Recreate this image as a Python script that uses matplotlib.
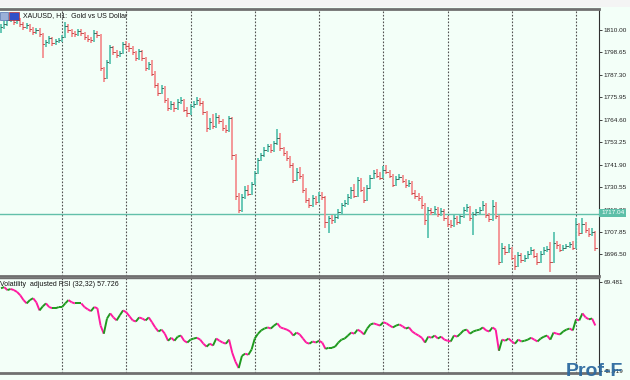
import matplotlib
matplotlib.use("Agg")
import matplotlib.pyplot as plt
from matplotlib.collections import LineCollection
from matplotlib.patches import Rectangle

plt.rcParams["font.family"] = ["Liberation Sans", "DejaVu Sans"]

# XAUUSD H1 bars (open = previous close)
closes = [
    1811.5, 1813.0, 1815.1, 1816.1, 1814.0, 1815.1, 1813.0, 1811.5, 1812.5, 1810.5,
    1809.0, 1810.0, 1808.0, 1802.9, 1803.9, 1806.0, 1803.4, 1804.4, 1804.9, 1806.5,
    1812.0, 1810.0, 1808.5, 1808.0, 1809.5, 1808.5, 1806.5, 1805.5, 1804.9, 1808.5,
    1807.5, 1790.8, 1785.7, 1793.8, 1801.4, 1798.9, 1797.4, 1798.4, 1802.9, 1801.9,
    1800.9, 1798.9, 1795.8, 1799.4, 1795.8, 1790.8, 1792.8, 1787.8, 1782.2, 1778.2,
    1780.7, 1774.6, 1770.6, 1772.6, 1770.6, 1773.6, 1774.6, 1769.6, 1768.0, 1771.6,
    1772.6, 1774.6, 1773.1, 1768.5, 1760.5, 1763.5, 1761.5, 1766.0, 1764.0, 1760.5,
    1759.4, 1765.5, 1746.8, 1726.1, 1719.0, 1725.6, 1729.1, 1727.1, 1732.2, 1737.7,
    1744.3, 1746.8, 1749.3, 1751.3, 1749.3, 1752.9, 1755.4, 1750.3, 1747.8, 1745.3,
    1741.8, 1734.2, 1738.2, 1736.2, 1729.1, 1724.0, 1721.5, 1725.1, 1723.0, 1726.6,
    1725.6, 1712.9, 1714.9, 1713.9, 1715.4, 1718.0, 1721.5, 1722.5, 1725.6, 1729.1,
    1726.1, 1734.2, 1729.1, 1724.0, 1730.1, 1735.2, 1737.7, 1736.2, 1735.2, 1739.2,
    1738.2, 1736.2, 1731.6, 1734.7, 1735.7, 1733.7, 1731.6, 1732.7, 1727.6, 1726.1,
    1725.1, 1721.5, 1713.9, 1719.0, 1718.0, 1719.5, 1716.9, 1718.5, 1714.9, 1711.9,
    1711.4, 1714.9, 1712.9, 1715.9, 1719.0, 1720.5, 1714.9, 1716.9, 1718.0, 1719.0,
    1721.5, 1716.4, 1714.4, 1721.0, 1715.9, 1692.7, 1699.8, 1697.8, 1699.8, 1694.7,
    1690.7, 1696.3, 1693.7, 1694.7, 1696.8, 1698.8, 1695.8, 1692.7, 1696.8, 1698.8,
    1699.3, 1692.7, 1702.3, 1701.3, 1698.8, 1699.8, 1700.8, 1701.8, 1699.8, 1711.9,
    1707.4, 1711.9, 1708.9, 1706.9, 1707.9, 1699.8,
]
highs = [
    1813.0, 1814.5, 1816.5, 1817.5, 1817.0, 1816.5, 1816.0, 1814.0, 1813.5, 1813.0,
    1811.5, 1811.0, 1811.0, 1808.5, 1805.0, 1807.0, 1806.5, 1805.5, 1806.0, 1807.5,
    1814.0, 1813.0, 1810.5, 1809.5, 1810.5, 1810.5, 1809.0, 1807.5, 1806.5, 1810.0,
    1809.5, 1808.0, 1791.5, 1795.0, 1802.5, 1802.0, 1800.0, 1799.5, 1804.0, 1804.5,
    1803.5, 1802.0, 1799.5, 1800.5, 1800.0, 1796.5, 1794.0, 1795.0, 1789.0, 1783.0,
    1782.0, 1781.5, 1775.5, 1774.0, 1773.5, 1775.0, 1776.0, 1775.0, 1771.0, 1772.5,
    1774.0, 1776.0, 1775.5, 1774.0, 1769.0, 1765.5, 1767.5, 1768.0, 1767.0, 1765.0,
    1762.0, 1766.5, 1766.0, 1747.5, 1727.5, 1727.0, 1731.0, 1731.5, 1733.0, 1738.5,
    1745.5, 1748.0, 1751.0, 1752.5, 1752.5, 1754.0, 1760.0, 1758.0, 1751.0, 1749.0,
    1746.5, 1742.5, 1740.0, 1740.5, 1737.0, 1730.0, 1725.0, 1726.5, 1726.0, 1728.0,
    1728.0, 1726.0, 1716.0, 1716.5, 1716.5, 1719.5, 1722.5, 1724.0, 1727.0, 1730.5,
    1732.0, 1735.5, 1735.0, 1730.5, 1731.5, 1736.5, 1739.0, 1739.5, 1738.0, 1741.0,
    1741.5, 1739.0, 1737.0, 1736.0, 1737.0, 1736.5, 1734.5, 1734.0, 1733.5, 1729.0,
    1727.5, 1726.0, 1722.5, 1720.5, 1720.0, 1721.0, 1720.5, 1720.0, 1719.5, 1716.0,
    1714.0, 1716.5, 1716.0, 1717.0, 1720.5, 1722.0, 1721.0, 1718.0, 1719.5, 1720.5,
    1723.5, 1722.5, 1717.5, 1724.0, 1723.0, 1716.5, 1702.5, 1701.0, 1702.0, 1700.5,
    1696.0, 1697.5, 1697.0, 1696.0, 1698.0, 1700.5, 1699.5, 1697.0, 1698.0, 1700.5,
    1701.0, 1703.0, 1707.9, 1703.5, 1702.0, 1701.5, 1702.0, 1703.0, 1703.5, 1715.0,
    1712.5, 1714.9, 1713.0, 1710.0, 1710.0, 1708.5,
]
lows = [
    1808.5, 1810.5, 1812.0, 1814.0, 1812.5, 1813.0, 1811.5, 1810.0, 1810.5, 1809.0,
    1807.5, 1808.0, 1806.5, 1795.8, 1801.5, 1803.0, 1802.0, 1802.5, 1803.5, 1804.0,
    1806.0, 1808.5, 1806.5, 1806.5, 1807.0, 1807.0, 1805.0, 1804.0, 1803.5, 1804.0,
    1806.0, 1789.0, 1783.7, 1785.0, 1793.0, 1797.5, 1796.0, 1796.5, 1798.0, 1800.5,
    1799.0, 1797.5, 1794.5, 1795.0, 1794.5, 1789.5, 1790.0, 1786.5, 1780.7, 1776.6,
    1777.5, 1773.1, 1769.0, 1769.6, 1768.5, 1769.5, 1772.5, 1768.5, 1766.0, 1767.0,
    1770.5, 1772.0, 1771.5, 1767.0, 1758.5, 1759.5, 1760.0, 1760.5, 1762.5, 1759.0,
    1758.0, 1758.5, 1744.3, 1724.0, 1717.5, 1718.0, 1724.5, 1726.0, 1726.5, 1731.5,
    1737.0, 1743.5, 1746.0, 1748.5, 1748.0, 1748.5, 1752.0, 1749.0, 1746.5, 1743.5,
    1740.0, 1732.7, 1733.5, 1734.5, 1727.5, 1722.5, 1720.0, 1720.5, 1721.5, 1722.5,
    1724.0, 1709.9, 1707.4, 1712.0, 1712.5, 1714.5, 1717.0, 1720.5, 1721.5, 1724.5,
    1725.0, 1725.5, 1728.0, 1722.5, 1723.5, 1729.5, 1734.5, 1735.0, 1734.0, 1734.5,
    1737.0, 1735.0, 1730.5, 1731.0, 1734.0, 1732.5, 1730.0, 1730.5, 1726.5, 1724.5,
    1723.5, 1719.5, 1711.5, 1704.8, 1716.5, 1717.0, 1715.5, 1716.0, 1713.5, 1710.5,
    1710.0, 1710.5, 1711.5, 1712.0, 1715.0, 1718.0, 1713.5, 1706.4, 1716.0, 1716.5,
    1718.5, 1715.0, 1713.0, 1713.5, 1714.5, 1691.2, 1692.0, 1696.0, 1697.0, 1693.5,
    1688.7, 1690.0, 1692.0, 1692.5, 1694.0, 1696.0, 1694.5, 1691.2, 1692.0, 1696.0,
    1697.5, 1687.7, 1692.0, 1699.5, 1697.5, 1698.0, 1699.0, 1700.0, 1698.5, 1699.0,
    1706.0, 1707.0, 1707.5, 1705.3, 1706.0, 1698.0,
]
first_open = 1809.5

# Volatility adjusted RSI (32,32)
rsi = [
    67.8, 68.1, 67.3, 67.6, 67.3, 66.8, 65.9, 64.6, 63.7, 64.6,
    65.1, 64.0, 61.8, 62.9, 63.7, 62.7, 62.4, 62.4, 62.7, 62.7,
    63.7, 64.6, 64.0, 63.7, 63.7, 63.7, 62.7, 62.1, 61.6, 62.7,
    62.4, 57.7, 55.5, 59.6, 61.0, 59.9, 59.1, 60.5, 61.8, 61.3,
    60.2, 59.1, 58.8, 59.9, 59.6, 59.1, 59.9, 58.6, 57.2, 56.1,
    56.6, 55.5, 53.6, 54.4, 53.6, 54.7, 55.0, 53.6, 53.1, 53.9,
    54.2, 54.4, 53.9, 52.8, 52.0, 52.8, 52.3, 54.2, 53.6, 53.1,
    52.8, 53.9, 50.3, 47.9, 46.2, 49.5, 50.1, 49.8, 51.2, 54.2,
    55.5, 56.4, 56.9, 57.2, 56.9, 57.7, 58.3, 57.2, 56.9, 56.6,
    56.1, 55.0, 55.8, 55.3, 54.2, 53.1, 52.8, 53.4, 53.1, 53.6,
    53.1, 51.4, 51.7, 51.7, 52.0, 53.1, 53.9, 54.2, 55.0, 55.8,
    55.5, 56.6, 56.1, 55.3, 56.9, 58.0, 58.3, 58.0, 57.7, 58.6,
    58.3, 57.7, 57.2, 57.7, 58.0, 57.5, 56.9, 57.2, 56.1, 55.5,
    55.0, 54.4, 53.1, 54.7, 54.4, 55.0, 54.2, 54.7, 53.9, 53.6,
    53.4, 55.0, 54.7, 55.5, 56.4, 56.6, 55.5, 56.1, 56.4, 56.6,
    57.2, 56.4, 56.1, 57.2, 56.6, 50.9, 53.9, 53.6, 54.2, 53.4,
    52.8, 53.9, 53.4, 53.6, 53.9, 54.4, 53.9, 53.4, 54.2, 54.7,
    55.0, 53.9, 55.8, 55.5, 55.3, 56.1, 56.6, 56.9, 56.4, 59.4,
    59.1, 61.0, 59.9, 59.4, 59.6, 57.726,
]

price_ticks = [1810.00, 1798.65, 1787.30, 1775.95, 1764.60, 1753.25,
               1741.90, 1730.55, 1719.20, 1707.85, 1696.50]
last_price = 1717.04
grid_bars = [19, 39, 59, 79, 99, 119, 139, 159, 179]

bg = "#f3fff8"
bull = "#5cc4b0"
bear = "#f39090"
grid_col = "#505050"

fig = plt.figure(figsize=(6.3, 3.8), dpi=100, facecolor=bg)
W, H = 630.0, 380.0

ax = fig.add_axes([0, 1 - 276 / H, 599 / W, 267 / H], facecolor=bg)
ax2 = fig.add_axes([0, 1 - 373 / H, 599 / W, 95 / H], facecolor=bg)

n = len(closes)
xs = list(range(n))
opens = [first_open] + closes[:-1]

# bars
for i in xs:
    col = bull if closes[i] >= opens[i] else bear
    ax.vlines(i, lows[i], highs[i], color=col, lw=1.3, zorder=3)
    ax.plot([i, i + 0.45], [closes[i], closes[i]], color="#4a6a60" if col == bull else "#c05050",
            lw=0.7, zorder=4)

ax.axhline(last_price, color="#62c0aa", lw=1.0, zorder=2)

for g in grid_bars:
    for a in (ax, ax2):
        a.axvline(g, color=grid_col, lw=0.8, ls=(0, (1.5, 1.5)), zorder=1)

xmin, xmax = -0.31, 186.15
ax.set_xlim(xmin, xmax)
ax.set_ylim(1685.6, 1820.6)
ax.set_xticks([])
ax.yaxis.tick_right()
ax.set_yticks(price_ticks)
ax.set_yticklabels([f"{t:.2f}" for t in price_ticks])
ax.tick_params(axis="y", labelsize=4.6, length=2.5, width=0.6, pad=0.8, colors="#222222")

for s in ("left",):
    ax.spines[s].set_visible(False)
    ax2.spines[s].set_visible(False)
ax.spines["top"].set_color("#707070")
ax.spines["top"].set_linewidth(2)
ax.spines["bottom"].set_color("#707070")
ax.spines["bottom"].set_linewidth(2)
ax.spines["right"].set_color("#303030")
ax.spines["right"].set_linewidth(0.8)

# RSI with direction colours
segs = [[(i, rsi[i]), (i + 1, rsi[i + 1])] for i in range(n - 1)]
cols = ["#1f9a1f" if rsi[i + 1] >= rsi[i] else "#ff1aa0" for i in range(n - 1)]
ax2.add_collection(LineCollection(segs, colors=cols, linewidths=1.4, zorder=3))
ax2.set_xlim(xmin, xmax)
ax2.set_ylim(44.87, 70.57)
ax2.set_xticks([])
ax2.yaxis.tick_right()
ax2.set_yticks([69.481, 45.419])
ax2.set_yticklabels(["69.481", "45.419"])
ax2.tick_params(axis="y", labelsize=4.6, length=2.5, width=0.6, pad=0.8, colors="#222222")
ax2.spines["top"].set_color("#707070")
ax2.spines["top"].set_linewidth(1)
ax2.spines["bottom"].set_color("#707070")
ax2.spines["bottom"].set_linewidth(2)
ax2.spines["right"].set_color("#303030")
ax2.spines["right"].set_linewidth(0.8)

# titles
fig.text(23 / W, 1 - 16 / H, "XAUUSD, H1:  Gold vs US Dollar", fontsize=5.0,
         va="center", ha="left", color="#111111")
fig.text(0.5 / W, 1 - 284 / H, "Volatility  adjusted RSI (32,32) 57.726", fontsize=5.0,
         va="center", ha="left", color="#111111")
fig.patches.append(Rectangle((0, 1 - 20 / H), 8 / W, 8 / H, transform=fig.transFigure,
                             facecolor="#9ab0d8", edgecolor="#5070b0", lw=0.5))
fig.patches.append(Rectangle((9 / W, 1 - 20 / H), 10 / W, 8 / H, transform=fig.transFigure,
                             facecolor="#3050c8", edgecolor="#c03030", lw=0.5))

# top strip
fig.patches.append(Rectangle((0, 1 - 7 / H), 1, 7 / H, transform=fig.transFigure,
                             facecolor="#f4f4f4", edgecolor="none", zorder=0))

# last price label
fig.text(601 / W, 1 - 213 / H, "1717.04", fontsize=4.6, color="white", va="center", ha="left",
         bbox=dict(boxstyle="square,pad=0.3", facecolor="#5cbfa8", edgecolor="none"))

# watermark
fig.text(566 / W, 1 - 376 / H, "Prof-F", fontsize=14, fontweight="bold", color="#2d6aa0",
         ha="left", va="baseline", alpha=0.95)

fig.savefig("out.png", dpi=100, facecolor=bg)
